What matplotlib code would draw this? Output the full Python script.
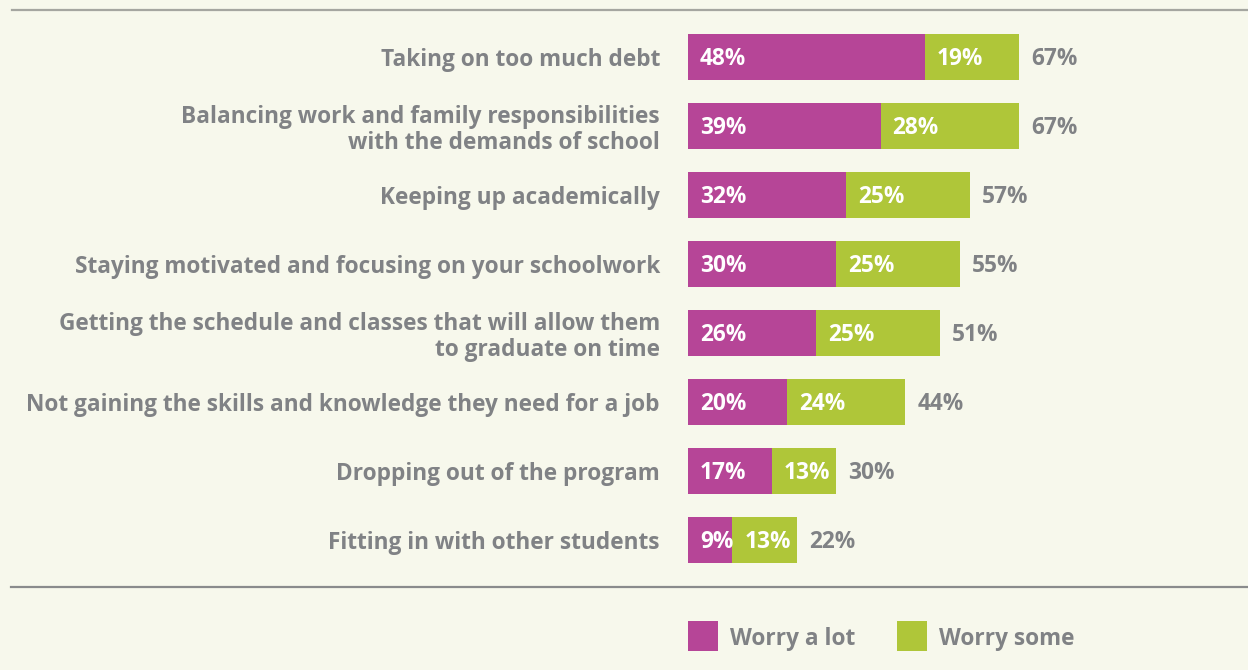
import matplotlib
matplotlib.use("Agg")
import matplotlib.pyplot as plt
from matplotlib.patches import Rectangle
from matplotlib.lines import Line2D

categories = [
    "Taking on too much debt",
    "Balancing work and family responsibilities\nwith the demands of school",
    "Keeping up academically",
    "Staying motivated and focusing on your schoolwork",
    "Getting the schedule and classes that will allow them\nto graduate on time",
    "Not gaining the skills and knowledge they need for a job",
    "Dropping out of the program",
    "Fitting in with other students",
]
worry_a_lot = [48, 39, 32, 30, 26, 20, 17, 9]
worry_some = [19, 28, 25, 25, 25, 24, 13, 13]
totals = [67, 67, 57, 55, 51, 44, 30, 22]
series_names = ["Worry a lot", "Worry some"]

BG = "#F7F8EC"
MAG = "#B64597"
GRN = "#AFC639"
GRAY = "#808285"
FONT = "Open Sans"
WT = "bold"
FS = 16.3
PT = 0.72  # points per pixel at 100 dpi

W, H = 1248, 670
fig = plt.figure(figsize=(W / 100, H / 100), dpi=100, facecolor=BG)

ax_left, ax_right = 688, 1248
ax_top, ax_bot = 10, 587
ax = fig.add_axes([ax_left / W, 1 - ax_bot / H, (ax_right - ax_left) / W, (ax_bot - ax_top) / H])
ax.set_facecolor(BG)
px_per_pct = 4.94
ax.set_xlim(0, (ax_right - ax_left) / px_per_pct)
ax.set_ylim(7.681, -0.681)
ax.axis("off")

ypos = list(range(len(categories)))
ax.barh(ypos, worry_a_lot, height=0.667, color=MAG, linewidth=0)
ax.barh(ypos, worry_some, left=worry_a_lot, height=0.667, color=GRN, linewidth=0)

txt = dict(fontsize=FS, fontweight=WT, family=FONT, va="baseline",
           textcoords="offset points", annotation_clip=False)
for i in ypos:
    ax.annotate(f"{worry_a_lot[i]}%", (0, i), xytext=(12 * PT, -8 * PT),
                color="white", ha="left", **txt)
    ax.annotate(f"{worry_some[i]}%", (worry_a_lot[i], i), xytext=(12 * PT, -8 * PT),
                color="white", ha="left", **txt)
    ax.annotate(f"{totals[i]}%", (worry_a_lot[i] + worry_some[i], i),
                xytext=(12 * PT, -8 * PT), color=GRAY, ha="left", **txt)
    n = categories[i].count("\n") + 1
    dy = 9 + (n - 1) * 14
    ax.annotate(categories[i], (0, i), xytext=(-28 * PT, -dy * PT), color=GRAY,
                ha="right", linespacing=1.1, **txt)

# horizontal rules
fig.add_artist(Line2D([12 / W, 1], [1 - 10 / H] * 2, color="#A5A6A0", linewidth=1.6))
fig.add_artist(Line2D([11 / W, 1], [1 - 587 / H] * 2, color="#8A8B8C", linewidth=1.6))

# legend
leg_x = [688, 897]
cols = [MAG, GRN]
for x, c, name in zip(leg_x, cols, series_names):
    fig.add_artist(Rectangle((x / W, 1 - 651 / H), 30 / W, 30 / H, color=c,
                             transform=fig.transFigure, linewidth=0))
    fig.text((x + 42) / W, 1 - 645 / H, name, color=GRAY, fontsize=FS, fontweight=WT,
             family=FONT, va="baseline", ha="left")

fig.savefig("out.png", dpi=100, facecolor=BG)
